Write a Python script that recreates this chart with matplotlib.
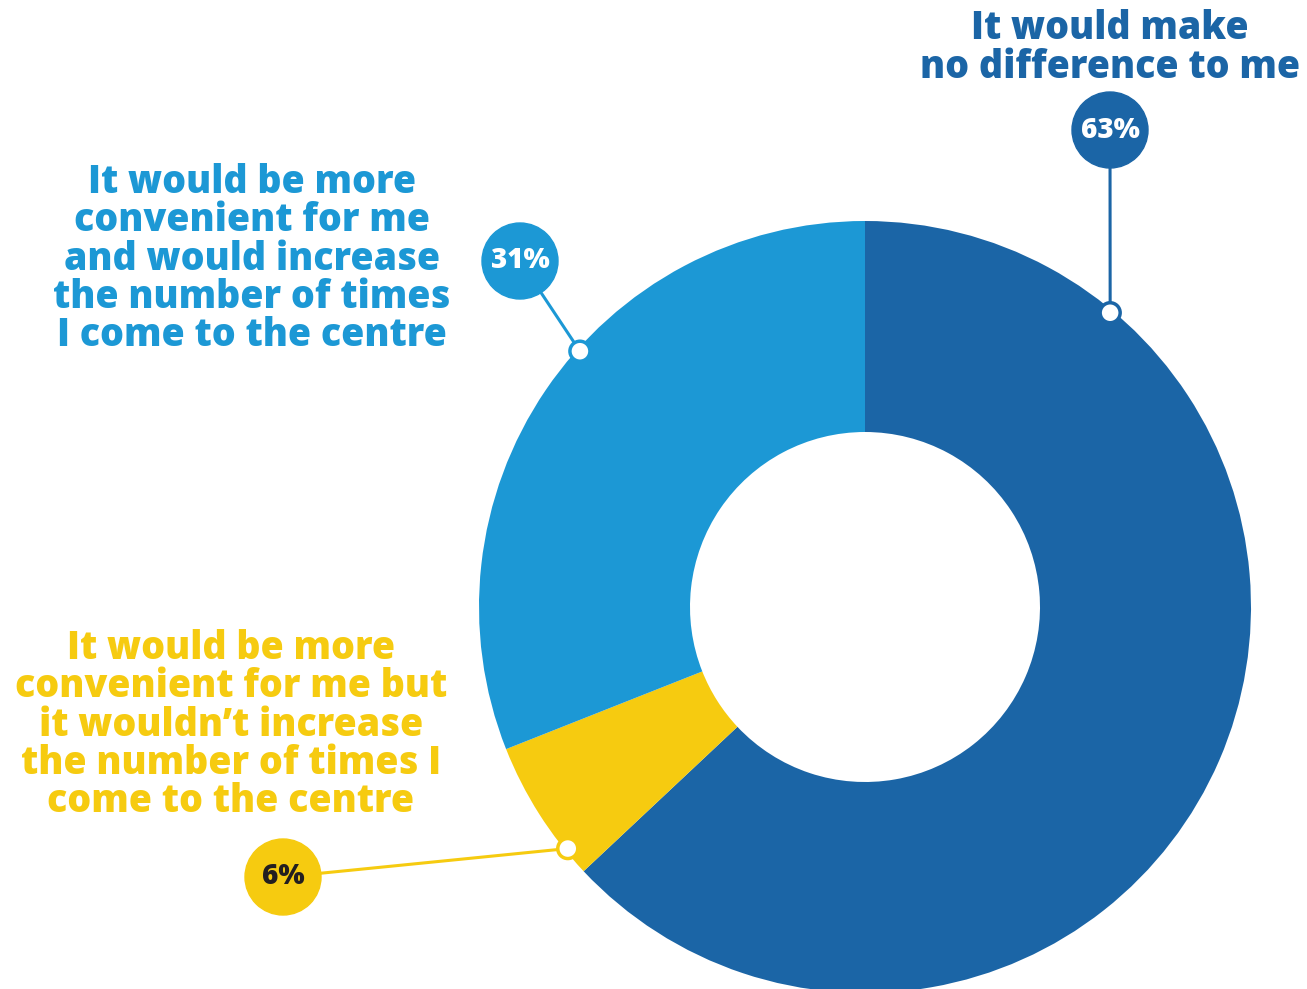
import numpy as np
import matplotlib
matplotlib.use("Agg")
from matplotlib import pyplot as plt
from matplotlib.patches import Circle

# survey answers, clockwise from the top
labels = ["It would make\nno difference to me",
          "It would be more\nconvenient for me but\nit wouldn\u2019t increase\nthe number of times I\ncome to the centre",
          "It would be more\nconvenient for me\nand would increase\nthe number of times\nI come to the centre"]
values = [63, 6, 31]
colors = ["#1B65A6", "#F6CB10", "#1C98D5"]
pct_text_colors = ["white", "#231F20", "white"]

W, H = 1307, 989
cx, cy = 865, H - 607
r_out, r_in = 386, 175

plt.rcParams['font.family'] = ['Open Sans', 'DejaVu Sans']

fig = plt.figure(figsize=(W / 100, H / 100), dpi=100)
ax = fig.add_axes([0, 0, 1, 1])

ax.pie(values, colors=colors, startangle=90, counterclock=False,
       center=(cx, cy), radius=r_out,
       wedgeprops=dict(width=r_out - r_in, linewidth=0))

ax.set_xlim(0, W)
ax.set_ylim(0, H)
ax.set_aspect('equal')
ax.axis('off')

# rim anchor angle (deg), bubble centre, label centre (top-down pixels)
callouts = [
    (50.2, (1110, 130), (1110, 48)),
    (219.1, (283, 877), (231, 725)),
    (138.1, (520, 261), (252, 259)),
]

for (ang, (bx, by), (lx, ly)), lab, v, col, tcol in zip(
        callouts, labels, values, colors, pct_text_colors):
    by, ly = H - by, H - ly
    a = np.radians(ang)
    dx, dy = cx + (r_out - 3) * np.cos(a), cy + (r_out - 3) * np.sin(a)
    ax.plot([bx, dx], [by, dy], color=col, lw=2.2, zorder=3)
    ax.add_patch(Circle((bx, by), 38, color=col, zorder=4))
    ax.add_patch(Circle((dx, dy), 10, facecolor='white', edgecolor=col,
                        lw=2.5, zorder=5))
    ax.text(bx, by, f"{v}%", ha='center', va='center', color=tcol,
            fontsize=20, fontweight='heavy', zorder=6)
    ax.text(lx, ly, lab, ha='center', va='center', color=col,
            fontsize=27, fontweight='heavy', linespacing=0.97)

fig.savefig("out.png", dpi=100)
